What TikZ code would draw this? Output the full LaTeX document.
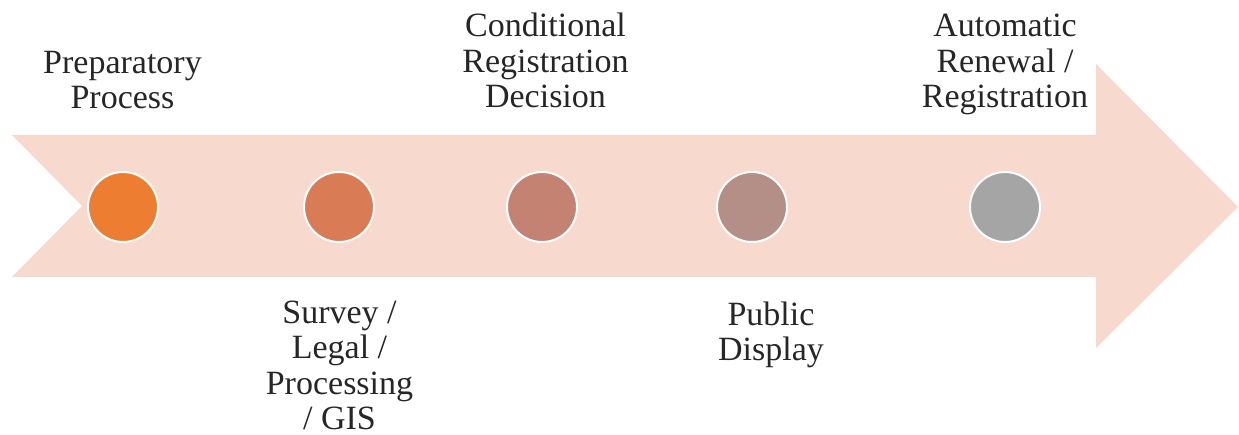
\documentclass[tikz,border=0pt]{standalone}
\usepackage{fontspec}
\setmainfont{Liberation Serif}
\definecolor{arrowfill}{HTML}{F8D9CE}
\definecolor{cA}{HTML}{ED7D31}
\definecolor{cB}{HTML}{D97B55}
\definecolor{cC}{HTML}{C48272}
\definecolor{cD}{HTML}{B38F88}
\definecolor{cE}{HTML}{A5A5A5}
\begin{document}
\begin{tikzpicture}[x=1pt,y=-1pt,
  dot/.style={circle,draw=white,line width=2pt,minimum size=70pt,inner sep=0pt},
  lbl/.style={align=center,inner sep=0pt,text depth=0pt,anchor=south,text=black!85,font=\fontsize{34}{35.5}\selectfont}]
\useasboundingbox (0,0) rectangle (1239,435);
\fill[arrowfill] (12,135) -- (1096,135) -- (1096,64) -- (1238,207) -- (1096,348) -- (1096,277) -- (12,277) -- (82,206) -- cycle;
\node[dot,fill=cA] (d1) at (123,207) {};
\node[dot,fill=cB] (d2) at (339,207) {};
\node[dot,fill=cC] (d3) at (542,207) {};
\node[dot,fill=cD] (d4) at (752,207) {};
\node[dot,fill=cE] (d5) at (1005,207) {};
\node[lbl] (t1) at (122.5,109) {Preparatory\\Process};
\node[lbl] (t3) at (545.5,108) {Conditional\\Registration\\Decision};
\node[lbl] (t5) at (1005,108) {Automatic\\Renewal /\\Registration};
\node[lbl] (t2) at (339.5,430) {Survey /\\Legal /\\Processing\\/ GIS};
\node[lbl] (t4) at (771,361) {Public\\Display};
\end{tikzpicture}
\end{document}
